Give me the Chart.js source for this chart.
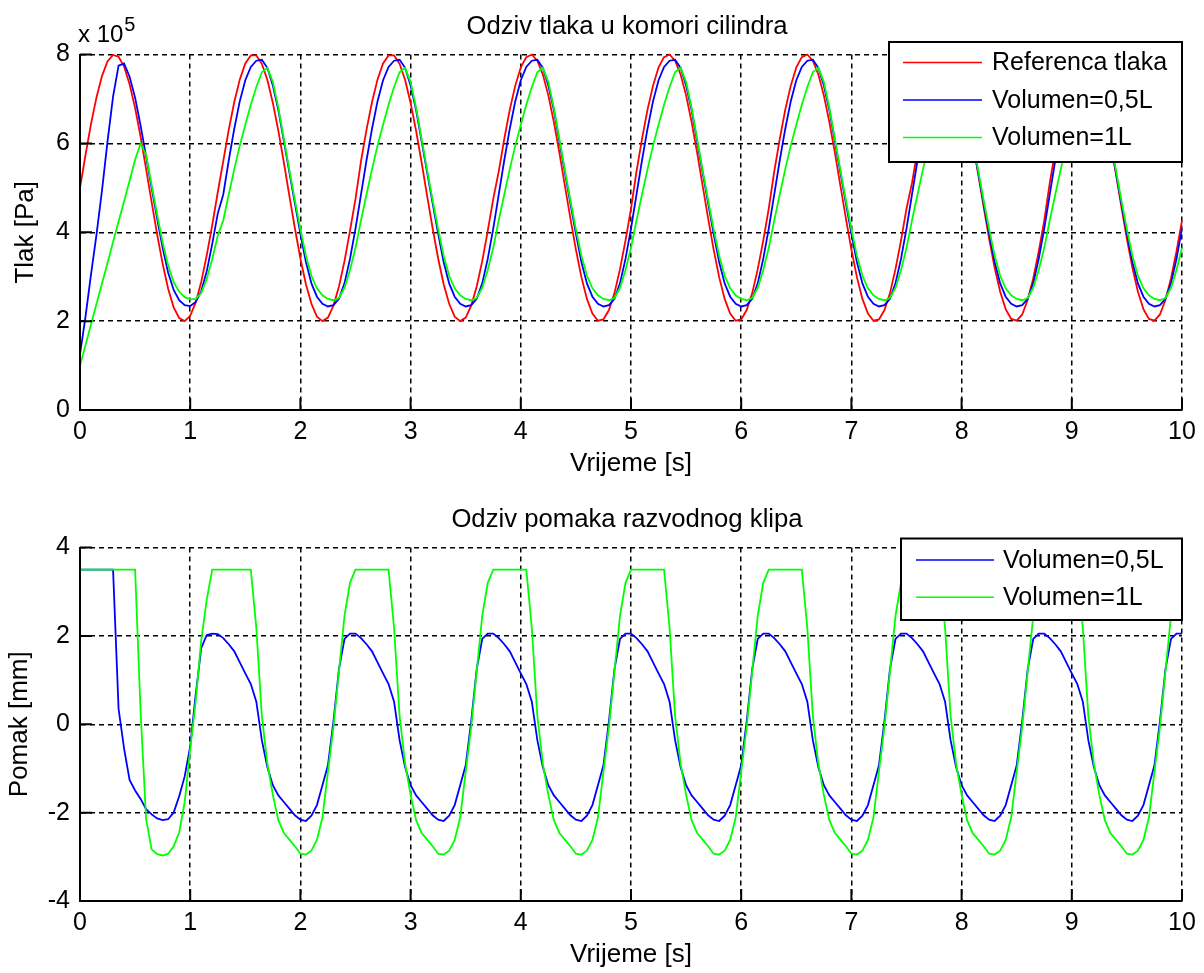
<!DOCTYPE html>
<html>
<head>
<meta charset="utf-8">
<script src="https://cdn.jsdelivr.net/npm/chart.js@4.4.0/dist/chart.umd.min.js"></script>
<style>
  body { margin: 0; background: #fff; }
  #wrap { position: relative; width: 1204px; height: 973px; }
  canvas { position: absolute; left: 0; }
  #gore { top: 0; }
  #dolje { top: 490px; }
</style>
</head>
<body>
<div id="wrap">
  <canvas id="gore" width="1204" height="490"></canvas>
  <canvas id="dolje" width="1204" height="483"></canvas>
</div>
<script>
// vrijeme [s]
const time = [
  0,0.05,0.1,0.15,0.2,0.25,0.3,0.35,0.4,0.45,0.5,0.55,0.6,0.65,0.7,0.75,0.8,0.85,0.9,0.95,
  1,1.05,1.1,1.15,1.2,1.25,1.3,1.35,1.4,1.45,1.5,1.55,1.6,1.65,1.7,1.75,1.8,1.85,1.9,1.95,
  2,2.05,2.1,2.15,2.2,2.25,2.3,2.35,2.4,2.45,2.5,2.55,2.6,2.65,2.7,2.75,2.8,2.85,2.9,2.95,
  3,3.05,3.1,3.15,3.2,3.25,3.3,3.35,3.4,3.45,3.5,3.55,3.6,3.65,3.7,3.75,3.8,3.85,3.9,3.95,
  4,4.05,4.1,4.15,4.2,4.25,4.3,4.35,4.4,4.45,4.5,4.55,4.6,4.65,4.7,4.75,4.8,4.85,4.9,4.95,
  5,5.05,5.1,5.15,5.2,5.25,5.3,5.35,5.4,5.45,5.5,5.55,5.6,5.65,5.7,5.75,5.8,5.85,5.9,5.95,
  6,6.05,6.1,6.15,6.2,6.25,6.3,6.35,6.4,6.45,6.5,6.55,6.6,6.65,6.7,6.75,6.8,6.85,6.9,6.95,
  7,7.05,7.1,7.15,7.2,7.25,7.3,7.35,7.4,7.45,7.5,7.55,7.6,7.65,7.7,7.75,7.8,7.85,7.9,7.95,
  8,8.05,8.1,8.15,8.2,8.25,8.3,8.35,8.4,8.45,8.5,8.55,8.6,8.65,8.7,8.75,8.8,8.85,8.9,8.95,
  9,9.05,9.1,9.15,9.2,9.25,9.3,9.35,9.4,9.45,9.5,9.55,9.6,9.65,9.7,9.75,9.8,9.85,9.9,9.95,
  10
];

// tlak x 10^5 Pa
const tlakReferenca = [
  5.00,5.74,6.44,7.04,7.52,7.85,7.99,7.95,7.73,7.33,6.80,6.15,5.42,4.68,3.95,3.29,2.73,2.31,2.07,2.00,2.12,2.42,2.88,3.48,4.16,4.90,
  5.60,6.31,6.93,7.44,7.80,7.98,7.98,7.79,7.43,6.91,6.28,5.57,4.82,4.09,3.41,2.83,2.39,2.10,2.00,2.08,2.35,2.78,3.35,4.03,4.75,
  5.60,6.31,6.93,7.44,7.80,7.98,7.98,7.79,7.43,6.91,6.28,5.57,4.82,4.09,3.41,2.83,2.39,2.10,2.00,2.08,2.35,2.78,3.35,4.03,4.75,
  5.37,6.10,6.76,7.30,7.71,7.94,8.00,7.86,7.55,7.08,6.48,5.79,5.05,4.31,3.61,2.99,2.50,2.17,2.01,2.04,2.25,2.63,3.17,3.81,4.53,
  5.37,6.10,6.76,7.30,7.71,7.94,8.00,7.86,7.55,7.08,6.48,5.79,5.05,4.31,3.61,2.99,2.50,2.17,2.01,2.04,2.25,2.63,3.17,3.81,4.53,
  5.37,6.10,6.76,7.30,7.71,7.94,8.00,7.86,7.55,7.08,6.48,5.79,5.05,4.31,3.61,2.99,2.50,2.17,2.01,2.04,2.25,2.63,3.17,3.81,4.53,
  5.11,5.84,6.53,7.12,7.58,7.88,8.00,7.93,7.68,7.27,6.71,6.05,5.32,4.57,3.85,3.20,2.66,2.27,2.05,2.01,2.15,2.48,2.96,3.57,4.26,
  5.11,5.84,6.53,7.12,7.58,7.88,8.00,7.93,7.68,7.27,6.71,6.05,5.32,4.57,3.85,3.20,2.66,2.27,2.05,2.01,2.15,2.48,2.96,3.57,4.26
];
const tlakV05 = [
  1.25,2.10,3.05,3.95,4.95,6.05,7.05,7.75,7.80,7.50,7.03,6.40,5.70,5.00,4.31,3.65,3.09,2.70,2.47,2.36,2.34,2.43,2.67,3.12,3.74,4.42,
  4.85,5.62,6.33,6.95,7.42,7.72,7.86,7.88,7.70,7.30,6.75,6.05,5.35,4.65,3.97,3.33,2.85,2.55,2.39,2.33,2.36,2.50,2.85,3.40,4.08,
  4.85,5.62,6.33,6.95,7.42,7.72,7.86,7.88,7.70,7.30,6.75,6.05,5.35,4.65,3.97,3.33,2.85,2.55,2.39,2.33,2.36,2.50,2.85,3.40,4.08,
  4.85,5.62,6.33,6.95,7.42,7.72,7.86,7.88,7.70,7.30,6.75,6.05,5.35,4.65,3.97,3.33,2.85,2.55,2.39,2.33,2.36,2.50,2.85,3.40,4.08,
  4.85,5.62,6.33,6.95,7.42,7.72,7.86,7.88,7.70,7.30,6.75,6.05,5.35,4.65,3.97,3.33,2.85,2.55,2.39,2.33,2.36,2.50,2.85,3.40,4.08,
  4.85,5.62,6.33,6.95,7.42,7.72,7.86,7.88,7.70,7.30,6.75,6.05,5.35,4.65,3.97,3.33,2.85,2.55,2.39,2.33,2.36,2.50,2.85,3.40,4.08,
  4.85,5.62,6.33,6.95,7.42,7.72,7.86,7.88,7.70,7.30,6.75,6.05,5.35,4.65,3.97,3.33,2.85,2.55,2.39,2.33,2.36,2.50,2.85,3.40,4.08,
  4.85,5.62,6.33,6.95,7.42,7.72,7.86,7.88,7.70,7.30,6.75,6.05,5.35,4.65,3.97,3.33,2.85,2.55,2.39,2.33,2.36,2.50,2.85,3.40,4.08
];
const tlakV1 = [
  1.00,1.46,1.93,2.39,2.85,3.31,3.78,4.24,4.70,5.16,5.63,6.00,5.74,5.06,4.40,3.77,3.25,2.88,2.66,2.54,2.49,2.50,2.63,2.95,3.40,3.92,
  4.27,4.85,5.42,5.95,6.42,6.87,7.27,7.60,7.70,7.38,6.80,6.10,5.40,4.72,4.07,3.47,3.02,2.74,2.58,2.50,2.47,2.52,2.75,3.15,3.65,
  4.27,4.85,5.42,5.95,6.42,6.87,7.27,7.60,7.70,7.38,6.80,6.10,5.40,4.72,4.07,3.47,3.02,2.74,2.58,2.50,2.47,2.52,2.75,3.15,3.65,
  4.27,4.85,5.42,5.95,6.42,6.87,7.27,7.60,7.70,7.38,6.80,6.10,5.40,4.72,4.07,3.47,3.02,2.74,2.58,2.50,2.47,2.52,2.75,3.15,3.65,
  4.27,4.85,5.42,5.95,6.42,6.87,7.27,7.60,7.70,7.38,6.80,6.10,5.40,4.72,4.07,3.47,3.02,2.74,2.58,2.50,2.47,2.52,2.75,3.15,3.65,
  4.27,4.85,5.42,5.95,6.42,6.87,7.27,7.60,7.70,7.38,6.80,6.10,5.40,4.72,4.07,3.47,3.02,2.74,2.58,2.50,2.47,2.52,2.75,3.15,3.65,
  4.27,4.85,5.42,5.95,6.42,6.87,7.27,7.60,7.70,7.38,6.80,6.10,5.40,4.72,4.07,3.47,3.02,2.74,2.58,2.50,2.47,2.52,2.75,3.15,3.65,
  4.27,4.85,5.42,5.95,6.42,6.87,7.27,7.60,7.70,7.38,6.80,6.10,5.40,4.72,4.07,3.47,3.02,2.74,2.58,2.50,2.47,2.52,2.75,3.15,3.65
];

// pomak klipa [mm]
const pomakV05 = [
  3.50,3.50,3.50,3.50,3.50,3.50,3.50,0.35,-0.55,-1.26,-1.50,-1.69,-1.92,-2.04,-2.13,-2.17,-2.15,-2.00,-1.63,-1.18,-0.50,0.67,1.72,2.02,2.05,2.04,
  1.95,1.81,1.65,1.40,1.15,0.91,0.51,-0.36,-0.97,-1.38,-1.61,-1.76,-1.91,-2.06,-2.16,-2.19,-2.07,-1.83,-1.38,-0.93,0.07,1.25,1.93,2.05,2.05,
  1.95,1.81,1.65,1.40,1.15,0.91,0.51,-0.36,-0.97,-1.38,-1.61,-1.76,-1.91,-2.06,-2.16,-2.19,-2.07,-1.83,-1.38,-0.93,0.07,1.25,1.93,2.05,2.05,
  1.95,1.81,1.65,1.40,1.15,0.91,0.51,-0.36,-0.97,-1.38,-1.61,-1.76,-1.91,-2.06,-2.16,-2.19,-2.07,-1.83,-1.38,-0.93,0.07,1.25,1.93,2.05,2.05,
  1.95,1.81,1.65,1.40,1.15,0.91,0.51,-0.36,-0.97,-1.38,-1.61,-1.76,-1.91,-2.06,-2.16,-2.19,-2.07,-1.83,-1.38,-0.93,0.07,1.25,1.93,2.05,2.05,
  1.95,1.81,1.65,1.40,1.15,0.91,0.51,-0.36,-0.97,-1.38,-1.61,-1.76,-1.91,-2.06,-2.16,-2.19,-2.07,-1.83,-1.38,-0.93,0.07,1.25,1.93,2.05,2.05,
  1.95,1.81,1.65,1.40,1.15,0.91,0.51,-0.36,-0.97,-1.38,-1.61,-1.76,-1.91,-2.06,-2.16,-2.19,-2.07,-1.83,-1.38,-0.93,0.07,1.25,1.93,2.05,2.05,
  1.95,1.81,1.65,1.40,1.15,0.91,0.51,-0.36,-0.97,-1.38,-1.61,-1.76,-1.91,-2.06,-2.16,-2.19,-2.07,-1.83,-1.38,-0.93,0.07,1.25,1.93,2.05,2.05
];
const pomakV1 = [
  3.50,3.50,3.50,3.50,3.50,3.50,3.50,3.50,3.50,3.50,3.50,0.27,-2.15,-2.83,-2.94,-2.97,-2.93,-2.76,-2.45,-1.76,-0.57,0.52,1.90,2.82,3.50,3.50,
  3.50,3.50,3.50,3.50,3.50,3.50,2.18,0.19,-0.89,-1.60,-2.17,-2.46,-2.61,-2.76,-2.93,-2.95,-2.86,-2.62,-2.11,-1.07,-0.06,1.20,2.45,3.20,3.50,
  3.50,3.50,3.50,3.50,3.50,3.50,2.18,0.19,-0.89,-1.60,-2.17,-2.46,-2.61,-2.76,-2.93,-2.95,-2.86,-2.62,-2.11,-1.07,-0.06,1.20,2.45,3.20,3.50,
  3.50,3.50,3.50,3.50,3.50,3.50,2.18,0.19,-0.89,-1.60,-2.17,-2.46,-2.61,-2.76,-2.93,-2.95,-2.86,-2.62,-2.11,-1.07,-0.06,1.20,2.45,3.20,3.50,
  3.50,3.50,3.50,3.50,3.50,3.50,2.18,0.19,-0.89,-1.60,-2.17,-2.46,-2.61,-2.76,-2.93,-2.95,-2.86,-2.62,-2.11,-1.07,-0.06,1.20,2.45,3.20,3.50,
  3.50,3.50,3.50,3.50,3.50,3.50,2.18,0.19,-0.89,-1.60,-2.17,-2.46,-2.61,-2.76,-2.93,-2.95,-2.86,-2.62,-2.11,-1.07,-0.06,1.20,2.45,3.20,3.50,
  3.50,3.50,3.50,3.50,3.50,3.50,2.18,0.19,-0.89,-1.60,-2.17,-2.46,-2.61,-2.76,-2.93,-2.95,-2.86,-2.62,-2.11,-1.07,-0.06,1.20,2.45,3.20,3.50,
  3.50,3.50,3.50,3.50,3.50,3.50,2.18,0.19,-0.89,-1.60,-2.17,-2.46,-2.61,-2.76,-2.93,-2.95,-2.86,-2.62,-2.11,-1.07,-0.06,1.20,2.45,3.20,3.50
];

const FONT = "'Liberation Sans', Arial, sans-serif";

function points(values) {
  return values.map((v, i) => ({ x: time[i], y: v }));
}

// ticks inside the axes, like matlab
const inTicks = {
  id: 'inTicks',
  afterDatasetsDraw(chart) {
    const { ctx, chartArea: a, scales } = chart;
    ctx.save();
    ctx.strokeStyle = '#000';
    ctx.lineWidth = 2;
    ctx.beginPath();
    scales.x.ticks.forEach(t => {
      const px = scales.x.getPixelForValue(t.value);
      ctx.moveTo(px, a.bottom);
      ctx.lineTo(px, a.bottom - 12);
    });
    scales.y.ticks.forEach(t => {
      const py = scales.y.getPixelForValue(t.value);
      ctx.moveTo(a.left, py);
      ctx.lineTo(a.left + 12, py);
    });
    ctx.moveTo(a.left, a.top);
    ctx.lineTo(a.left, a.bottom);
    ctx.lineTo(a.right, a.bottom);
    ctx.stroke();
    ctx.restore();
  }
};

// legend box drawn over the lines
const boxLegend = {
  id: 'boxLegend',
  afterDatasetsDraw(chart, args, o) {
    const ctx = chart.ctx;
    ctx.save();
    ctx.fillStyle = '#fff';
    ctx.fillRect(o.x, o.y, o.w, o.h);
    ctx.strokeStyle = '#000';
    ctx.lineWidth = 2;
    ctx.strokeRect(o.x, o.y, o.w, o.h);
    ctx.font = '25px ' + FONT;
    ctx.textBaseline = 'middle';
    chart.data.datasets.forEach((ds, i) => {
      const y = o.y + o.first + i * o.step;
      ctx.strokeStyle = ds.borderColor;
      ctx.lineWidth = 1.5;
      ctx.beginPath();
      ctx.moveTo(o.x + o.l0, y);
      ctx.lineTo(o.x + o.l1, y);
      ctx.stroke();
      ctx.fillStyle = '#000';
      ctx.fillText(ds.label, o.x + o.tx, y + 1);
    });
    ctx.restore();
  }
};

// title centred over the axes
const axTitle = {
  id: 'axTitle',
  afterDraw(chart, args, o) {
    const ctx = chart.ctx;
    ctx.save();
    ctx.fillStyle = '#000';
    ctx.font = '25.7px ' + FONT;
    ctx.textAlign = 'center';
    ctx.textBaseline = 'middle';
    ctx.fillText(o.text, o.x, o.y);
    if (o.exp) {
      ctx.textAlign = 'left';
      ctx.textBaseline = 'alphabetic';
      ctx.font = '24px ' + FONT;
      ctx.fillText('x 10', 78, 41.5);
      const w = ctx.measureText('x 10').width;
      ctx.font = '20px ' + FONT;
      ctx.fillText('5', 78 + w + 1, 31);
    }
    ctx.restore();
  }
};

function xScale(height, titlePad) {
  return {
    type: 'linear', min: 0, max: 10,
    afterFit: s => { s.height = height; },
    ticks: { stepSize: 1, autoSkip: false, maxRotation: 0, padding: 7, color: '#000',
      font: { family: FONT, size: 25 }, callback: v => String(v) },
    grid: { color: '#000', lineWidth: 1.5, drawTicks: false },
    border: { color: '#000', width: 2, dash: [5, 4] },
    title: { display: true, text: 'Vrijeme [s]', color: '#000',
      font: { family: FONT, size: 26 }, padding: { top: 0, bottom: titlePad } }
  };
}

function yScale(min, max, text, titlePad) {
  return {
    min: min, max: max,
    afterFit: s => { s.width = 80; },
    ticks: { stepSize: 2, padding: 10, color: '#000',
      font: { family: FONT, size: 25 }, callback: v => String(v) },
    grid: { color: '#000', lineWidth: 1.5, drawTicks: false },
    border: { color: '#000', width: 2, dash: [5, 4] },
    title: { display: true, text: text, color: '#000',
      font: { family: FONT, size: 26 }, padding: { top: titlePad, bottom: 0 } }
  };
}

function baseOptions(title, padTop, legendBox, xs, ys) {
  return {
    responsive: false,
    animation: false,
    devicePixelRatio: 1,
    layout: { padding: { left: 0, right: 22, top: padTop, bottom: 0 } },
    elements: { point: { radius: 0 }, line: { borderWidth: 1.8, tension: 0 } },
    plugins: {
      legend: { display: false },
      tooltip: { enabled: false },
      title: { display: false },
      axTitle: title,
      boxLegend: legendBox
    },
    scales: { x: xs, y: ys }
  };
}

new Chart(document.getElementById('gore'), {
  type: 'line',
  data: {
    datasets: [
      { label: 'Referenca tlaka', data: points(tlakReferenca), borderColor: '#ff0000', order: 3, clip: false },
      { label: 'Volumen=0,5L', data: points(tlakV05), borderColor: '#0000ff', order: 2, clip: false },
      { label: 'Volumen=1L', data: points(tlakV1), borderColor: '#00ff00', order: 1, clip: false }
    ]
  },
  options: baseOptions({ text: 'Odziv tlaka u komori cilindra', x: 627, y: 27, exp: true }, 54.5,
    { x: 889, y: 42, w: 293, h: 120, first: 20.5, step: 37.5, l0: 14, l1: 93, tx: 103 },
    xScale(80, 11), yScale(0, 8, 'Tlak [Pa]', 10)),
  plugins: [inTicks, boxLegend, axTitle]
});

new Chart(document.getElementById('dolje'), {
  type: 'line',
  data: {
    datasets: [
      { label: 'Volumen=0,5L', data: points(pomakV05), borderColor: '#0000ff', order: 2, clip: false },
      { label: 'Volumen=1L', data: points(pomakV1), borderColor: '#00ff00', order: 1, clip: false }
    ]
  },
  options: baseOptions({ text: 'Odziv pomaka razvodnog klipa', x: 627, y: 30, exp: false }, 57.5,
    { x: 901, y: 48.5, w: 281, h: 81.5, first: 21.5, step: 37.3, l0: 15, l1: 93, tx: 102 },
    xScale(72, 3), yScale(-4, 4, 'Pomak [mm]', 4)),
  plugins: [inTicks, boxLegend, axTitle]
});
</script>
</body>
</html>
